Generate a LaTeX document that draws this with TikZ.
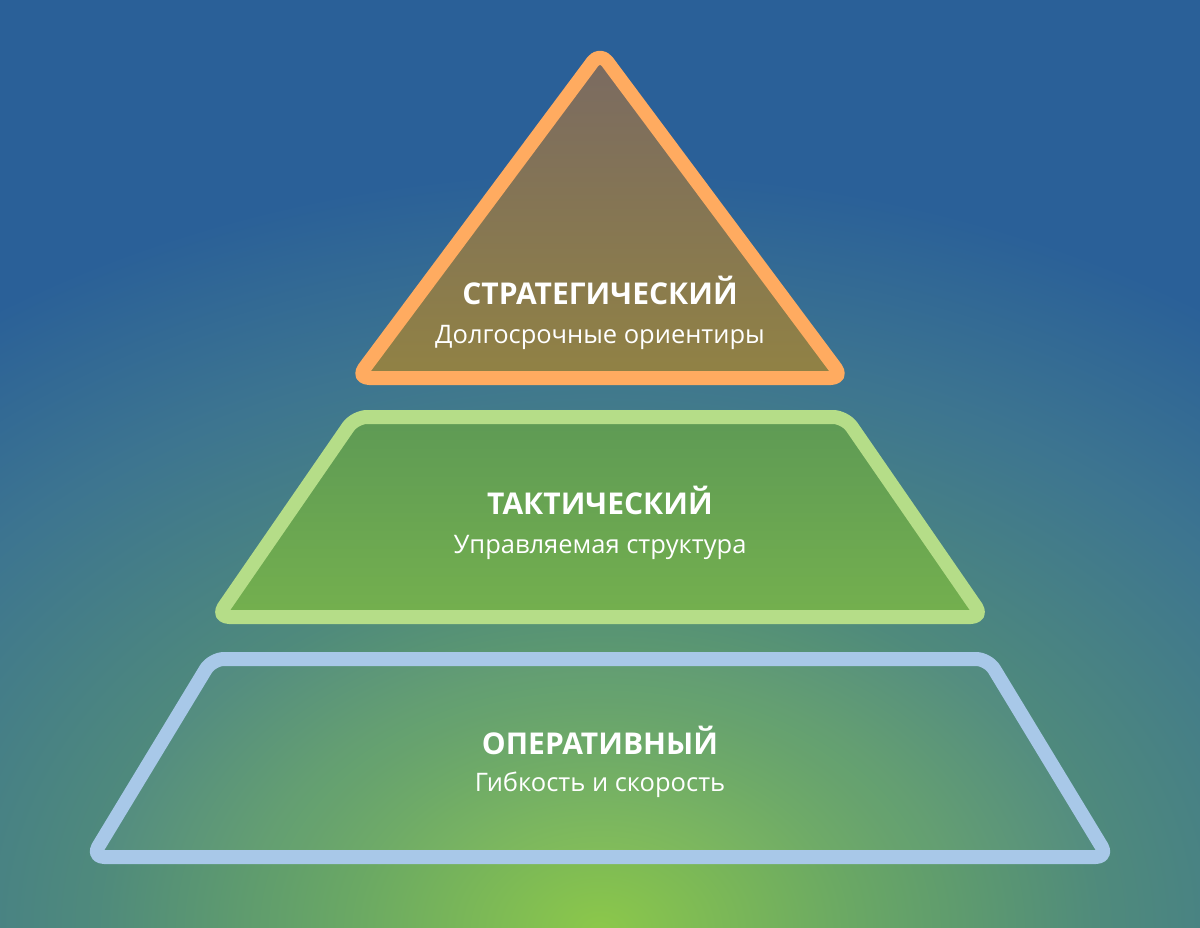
\documentclass[tikz,border=0pt]{standalone}
\usepackage{fontspec}
\setmainfont{Open Sans}
\definecolor{bgG}{HTML}{8CC84A}
\definecolor{bgA}{HTML}{6AA864}
\definecolor{bgB}{HTML}{4F8A7C}
\definecolor{bgC}{HTML}{3D7590}
\definecolor{bgD}{HTML}{2A6098}
\definecolor{orS}{HTML}{FFAB60}
\definecolor{trT}{HTML}{7A6A62}
\definecolor{trB}{HTML}{918244}
\definecolor{grS}{HTML}{B5DD88}
\definecolor{grT}{HTML}{5E9A55}
\definecolor{grB}{HTML}{74B04E}
\definecolor{blS}{HTML}{A8C8E8}
\pgfdeclareradialshading{bgshade}{\pgfpoint{0bp}{0bp}}{color(0bp)=(bgG); color(6bp)=(bgA); color(12bp)=(bgB); color(19bp)=(bgC); color(25bp)=(bgD); color(50bp)=(bgD)}
\begin{document}
\begin{tikzpicture}[x=1pt,y=-1pt,
  tier/.style={line width=14pt,rounded corners=12pt,line join=round},
  ttl/.style={text=white,font=\fontsize{30}{34}\selectfont\bfseries},
  sub/.style={text=white,font=\fontsize{25.5}{30}\selectfont}]
\useasboundingbox (0,0) rectangle (1200,928);
\clip (0,0) rectangle (1200,928);
\fill[bgD] (0,0) rectangle (1200,928);
\shade[shading=bgshade] (-450,170) rectangle (1650,1690);
% tier 3
\draw[tier,draw=blS,fill=white,fill opacity=0.03] (212,659) -- (988,659) -- (1108,857) -- (92,857) -- cycle;
% tier 2
\draw[tier,draw=grS,top color=grT,bottom color=grB] (355,417) -- (845,417) -- (983,617) -- (217,617) -- cycle;
% tier 1
\draw[tier,draw=orS,top color=trT,bottom color=trB] (600,52) -- (843,378) -- (357,378) -- cycle;
\node[ttl] (t1) at (600,290) {СТРАТЕГИЧЕСКИЙ};
\node[sub] (s1) at (600,337) {Долгосрочные ориентиры};
\node[ttl] (t2) at (600,500) {ТАКТИЧЕСКИЙ};
\node[sub] (s2) at (600,547) {Управляемая структура};
\node[ttl] (t3) at (600,740) {ОПЕРАТИВНЫЙ};
\node[sub] (s3) at (600,785) {Гибкость и скорость};
\end{tikzpicture}
\end{document}
